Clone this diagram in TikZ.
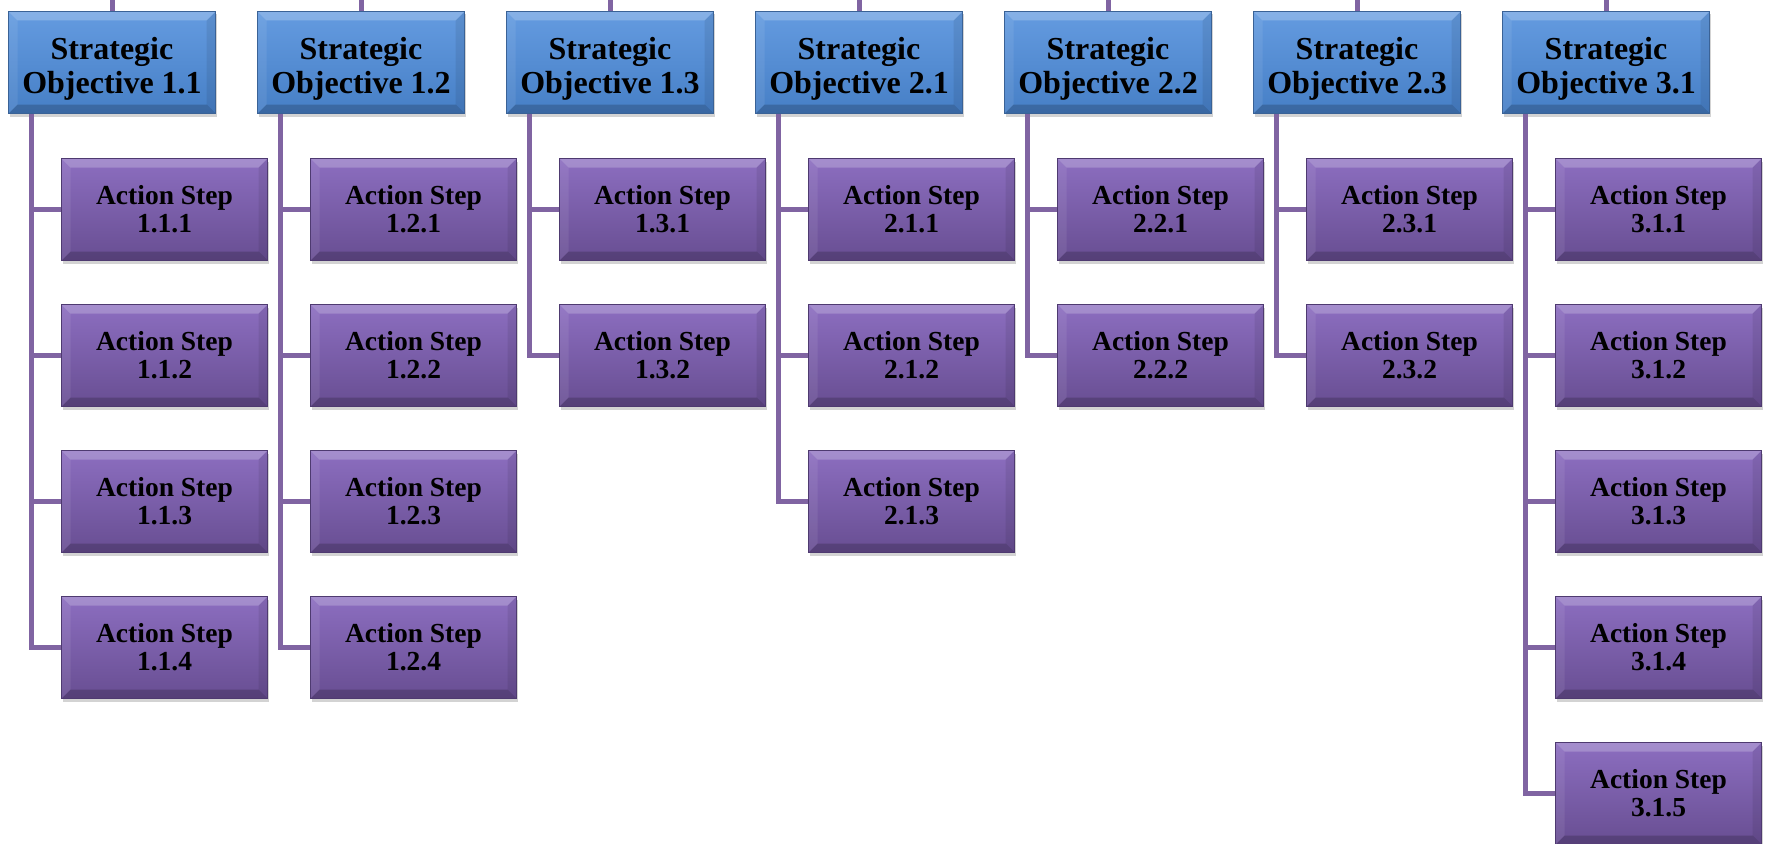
\documentclass[tikz,border=0pt]{standalone}
\usepackage[rgb]{xcolor}
\usepackage{tikz}
\usepackage{fontspec}
\setmainfont{Liberation Serif}
\usetikzlibrary{shadows}

\definecolor{objtop}{RGB}{100,155,224}
\definecolor{objbot}{RGB}{70,127,198}
\definecolor{objedge}{RGB}{58,98,150}
\definecolor{acttop}{RGB}{140,110,192}
\definecolor{actbot}{RGB}{104,78,146}
\definecolor{actedge}{RGB}{78,58,112}
\definecolor{linkpurple}{RGB}{128,100,162}

\newcommand{\objstrut}{\rule{0pt}{34pt}}

\tikzset{
  bevel/.style={path picture={
    \fill[white,opacity=0.22] (path picture bounding box.north west) -- (path picture bounding box.north east)
      -- ([shift={(-9pt,-9pt)}]path picture bounding box.north east) -- ([shift={(9pt,-9pt)}]path picture bounding box.north west) -- cycle;
    \fill[black,opacity=0.18] (path picture bounding box.south west) -- (path picture bounding box.south east)
      -- ([shift={(-9pt,9pt)}]path picture bounding box.south east) -- ([shift={(9pt,9pt)}]path picture bounding box.south west) -- cycle;
    \fill[black,opacity=0.08] (path picture bounding box.north east) -- (path picture bounding box.south east)
      -- ([shift={(-9pt,9pt)}]path picture bounding box.south east) -- ([shift={(-9pt,-9pt)}]path picture bounding box.north east) -- cycle;
    \fill[white,opacity=0.08] (path picture bounding box.north west) -- (path picture bounding box.south west)
      -- ([shift={(9pt,9pt)}]path picture bounding box.south west) -- ([shift={(9pt,-9pt)}]path picture bounding box.north west) -- cycle;
  }},
  objbox/.style={bevel, draw=objedge, line width=1.2pt, top color=objtop, bottom color=objbot,
    minimum width=207pt, minimum height=102pt, inner sep=0pt, align=center,
    font=\bfseries\fontsize{32}{34}\selectfont,
    drop shadow={opacity=0.35, shadow xshift=1pt, shadow yshift=-3pt}},
  actbox/.style={bevel, draw=actedge, line width=1.2pt, top color=acttop, bottom color=actbot,
    minimum width=206pt, minimum height=102pt, inner sep=0pt, align=center,
    font=\bfseries\fontsize{27.5}{28}\selectfont,
    drop shadow={opacity=0.35, shadow xshift=1pt, shadow yshift=-3pt}},
  link/.style={draw=linkpurple, line width=5pt}
}

\begin{document}
\begin{tikzpicture}[x=1pt, y=-1pt]

\useasboundingbox (0,0) rectangle (1768,843);

% Strategic objectives with their action steps
\foreach \lab/\n [count=\i from 0] in {1.1/4, 1.2/4, 1.3/2, 2.1/3, 2.2/2, 2.3/2, 3.1/5} {
  \node[objbox] (o\i) at ({112+249*\i}, 62.5) {\objstrut Strategic\\Objective \lab};
  \coordinate (top\i) at ({112+249*\i}, 0);
  \coordinate (trunk\i) at ({31+249*\i}, 114);
  \draw[link] (o\i.north) -- (top\i);
  \foreach \k in {1,...,\n} {
    \node[actbox] (a\i-\k) at ({164.5+249*\i}, {209.5+146*(\k-1)}) {Action Step\\\lab.\k};
  }
  \draw[link] (trunk\i) |- (a\i-\n.west);
  \foreach \k in {1,...,\n} {
    \draw[link] (trunk\i |- a\i-\k.west) -- (a\i-\k.west);
  }
}

\end{tikzpicture}
\end{document}
